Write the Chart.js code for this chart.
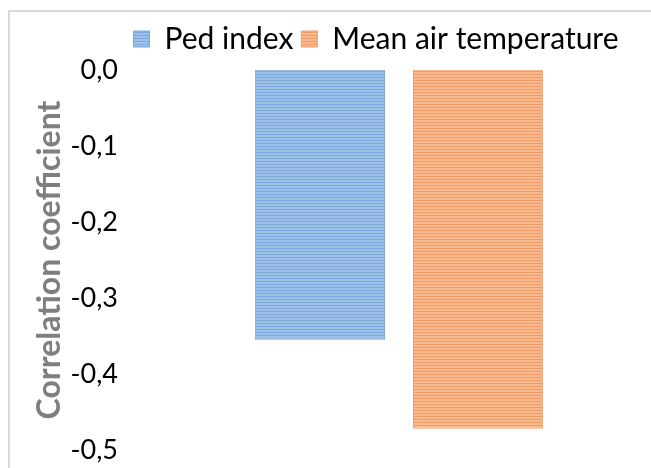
<!DOCTYPE html>
<html>
<head>
<meta charset="utf-8">
<script src="https://cdn.jsdelivr.net/npm/chart.js@4"></script>
<style>
  body { margin: 0; background: #fff; }
  #wrap { position: relative; width: 651px; height: 468px; }
  #frame { position: absolute; left: 8px; top: 10px; right: 0; bottom: 0;
           border-left: 2px solid #d9d9d9; border-top: 2px solid #d9d9d9; }
  #corr { position: absolute; left: 0; top: 0; }
</style>
</head>
<body>
<div id="wrap">
  <div id="frame"></div>
  <canvas id="corr" width="651" height="468"></canvas>
</div>
<script>
// values
const categories = [""];
const seriesNames = ["Ped index", "Mean air temperature"];
const pedIndex = [-0.355];
const meanAirTemp = [-0.472];
const yTicks = [0, -0.1, -0.2, -0.3, -0.4, -0.5];

// horizontal striped fill like the original
function stripes(base, line) {
    const c = document.createElement("canvas");
    c.width = 4;
    c.height = 3;
    const g = c.getContext("2d");
    g.fillStyle = base;
    g.fillRect(0, 0, 4, 3);
    g.fillStyle = line;
    g.fillRect(0, 2, 4, 1);
    return g.createPattern(c, "repeat");
}

const ctx = document.getElementById("corr").getContext("2d");
const bluePat = stripes("#9ec1e9", "#7fa8dc");
const orangePat = stripes("#f7b98d", "#ee9e67");

// nudge the legend right and up, as in the original
const legendShift = {
    id: "legendShift",
    afterLayout(chart) {
        chart.legend.left += 37;
        chart.legend.right += 37;
        chart.legend.top -= 6;
        chart.legend.bottom -= 6;
    }
};

const fmt = v => v.toFixed(1).replace(".", ",");

new Chart(ctx, {
    type: "bar",
    data: {
        labels: categories,
        datasets: [{
            label: seriesNames[0],
            data: pedIndex,
            backgroundColor: bluePat,
            borderColor: "#7ea6d8",
            borderWidth: 1,
        }, {
            label: seriesNames[1],
            data: meanAirTemp,
            backgroundColor: orangePat,
            borderColor: "#ee9f6a",
            borderWidth: 1,
        }],
    },
    options: {
        responsive: false,
        animation: false,
        categoryPercentage: 0.635,
        barPercentage: 0.823,
        layout: { padding: { left: 30, right: 3, top: 15, bottom: 18 } },
        plugins: {
            tooltip: { enabled: false },
            legend: {
                position: "top",
                labels: {
                    boxWidth: 16,
                    boxHeight: 16,
                    padding: 8,
                    color: "#000",
                    font: { family: "Lato", size: 30 },
                },
            },
        },
        scales: {
            x: { display: false },
            y: {
                min: -0.5,
                max: 0,
                afterBuildTicks: axis => { axis.ticks = yTicks.map(v => ({ value: v })); },
                afterFit: axis => {
                    axis.width = 120;
                    axis.paddingTop = 70;
                    axis.paddingBottom = 0;
                },
                grid: { display: false, drawTicks: false },
                border: { display: false },
                ticks: {
                    padding: 32,
                    color: "#000",
                    font: { family: "Lato", size: 27 },
                    callback: v => fmt(v),
                },
                title: {
                    display: true,
                    text: "Correlation coefficient",
                    color: "#7f7f7f",
                    padding: 0,
                    font: { family: "Lato", size: 32, weight: "bold" },
                },
            },
        },
    },
    plugins: [legendShift],
});
</script>
</body>
</html>
